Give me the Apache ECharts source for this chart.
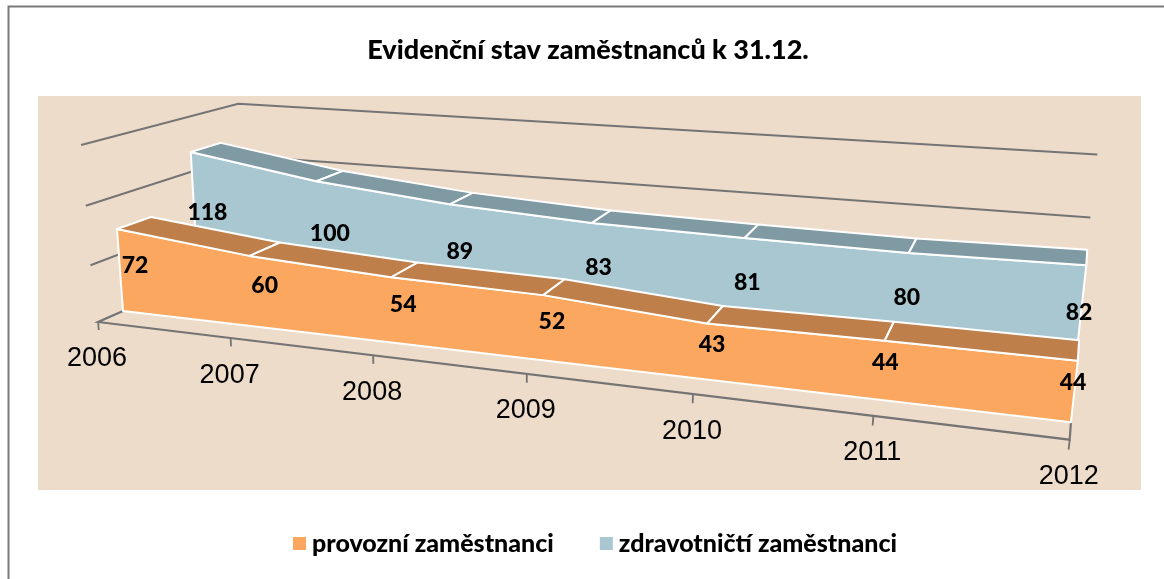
<!DOCTYPE html>
<html><head><meta charset="utf-8">
<style>html,body{margin:0;padding:0;background:#fff}#c{width:1164px;height:579px}</style>
<script src="https://cdn.jsdelivr.net/npm/echarts@6/dist/echarts.min.js"></script>
</head><body><div id="c"></div>
<script>
const years = ['2006','2007','2008','2009','2010','2011','2012'];
const provozni = [72,60,54,52,43,44,44];
const zdravotnicti = [118,100,89,83,81,80,82];
const valueTicks = [50,100,150];
const titleText = 'Evidenční stav zaměstnanců k 31.12.';
const nameA = 'provozní zaměstnanci', nameB = 'zdravotničtí zaměstnanci';

// perspective camera: origin + three vanishing points
const O=[123,311], VU=[-3550,-120], VV=[504,5524], VK=[1110,-125];
const A=-0.03419, B=-0.000215;
const K_AXIS=-0.0246, K_WALL=-0.0275, K_BACK=0.142;
const DEPTH_A=[0,0.0348], DEPTH_B=[0.0823,0.118];
const MAXU=years.length-1, MAXV=150;
function proj(api,i,v,k){
  const p=api.coord([i,v]), o=api.coord([0,0]), e=api.coord([MAXU,MAXV]);
  const a=A*(p[0]-o[0])/(e[0]-o[0])*MAXU, b=B*(p[1]-o[1])/(e[1]-o[1])*MAXV;
  const w=1+a+b+k;
  return [(O[0]+a*VU[0]+b*VV[0]+k*VK[0])/w,(O[1]+a*VU[1]+b*VV[1]+k*VK[1])/w];
}
const GRID='#747474';
const line=(pts,w)=>({type:'polyline',shape:{points:pts},style:{stroke:GRID,lineWidth:w||2,fill:null},silent:true});
const BOLD='Lato';
function renderGrid(params,api){
  const v=api.value(1);
  const a=proj(api,0,v,K_WALL),b=proj(api,0,v,K_BACK),c=proj(api,MAXU,v,K_BACK);
  return line([a,b,c]);
}
function renderAxis(params,api){
  const i=params.dataIndex, ch=[];
  const t=proj(api,i,0,K_AXIS), d=proj(api,i,-7,K_AXIS);
  ch.push(line([t,d],1.8));
  if(i===0){
    ch.push(line([proj(api,0,0,0),t,proj(api,MAXU,0,K_AXIS),proj(api,MAXU,0,0)],2.2));
  }
  ch.push({type:'text',style:{x:t[0]-1,y:t[1]+37,text:years[i],fontSize:27,fontFamily:'Liberation Sans',fill:'#000',textAlign:'center',textVerticalAlign:'middle'}});
  return {type:'group',children:ch};
}
function volume(vals,depth,topColor){
  return function(params,api){
    const i=params.dataIndex, col=api.visual('color'), ch=[];
    const edge={stroke:'#fff',lineWidth:2,lineJoin:'round'};
    if(i===0){
      const pts=[proj(api,0,0,depth[0])];
      vals.forEach((v,j)=>pts.push(proj(api,j,v,depth[0])));
      pts.push(proj(api,MAXU,0,depth[0]));
      ch.push({type:'polygon',shape:{points:pts},style:Object.assign({fill:col},edge)});
    }
    if(i<MAXU){
      ch.push({type:'polygon',shape:{points:[
        proj(api,i,vals[i],depth[0]),proj(api,i+1,vals[i+1],depth[0]),
        proj(api,i+1,vals[i+1],depth[1]),proj(api,i,vals[i],depth[1])]},
        style:Object.assign({fill:topColor},edge)});
    }
    return {type:'group',children:ch};
  };
}
function labels(depth,dy){
  return function(params,api){
    const i=params.dataIndex,v=api.value(1);
    const p=proj(api,i,v/2,(depth[0]+depth[1])/2);
    return {type:'text',style:{x:p[0]-2,y:p[1]+dy,text:String(v),fontSize:23,fontWeight:900,fontFamily:BOLD,fill:'#000',textAlign:'center',textVerticalAlign:'middle'}};
  };
}
const toPairs=a=>a.map((v,i)=>[i,v]);
const custom=(o)=>Object.assign({type:'custom',coordinateSystem:'cartesian2d',silent:true,animation:false},o);
const chart=echarts.init(document.getElementById('c'),null,{renderer:'canvas'});
chart.setOption({
  animation:false,
  backgroundColor:'#fff',
  title:{text:titleText,left:583,top:32,textAlign:'center',textStyle:{fontFamily:BOLD,fontWeight:900,fontSize:27,color:'#000'}},
  legend:{data:[nameA,nameB],left:288,top:526,icon:'rect',itemWidth:13,itemHeight:13,itemGap:46,selectedMode:false,
    textStyle:{fontFamily:BOLD,fontWeight:900,fontSize:25,color:'#000',padding:[0,0,0,1]}},
  grid:{left:38,top:96,width:1103,height:394,show:true,backgroundColor:'#eedccb',borderWidth:0},
  xAxis:{type:'category',data:years,boundaryGap:false,show:false},
  yAxis:{type:'value',min:0,max:MAXV,interval:50,show:false},
  graphic:[{type:'polyline',shape:{points:[[8.5,600],[8.5,6.5],[1170,6.5]]},style:{fill:null,stroke:'#7a7a7a',lineWidth:2},silent:true,z:100}],
  series:[
    custom({name:'mřížka',data:valueTicks.map(v=>[0,v]),renderItem:renderGrid,z:2}),
    custom({name:'osa',data:toPairs(years.map(()=>0)),renderItem:renderAxis,z:2}),
    custom({name:nameB,data:toPairs(zdravotnicti),itemStyle:{color:'#a9c7d1'},renderItem:volume(zdravotnicti,DEPTH_B,'#7f9aa3'),z:3}),
    custom({name:nameA,data:toPairs(provozni),itemStyle:{color:'#fca75f'},renderItem:volume(provozni,DEPTH_A,'#bf7f4a'),z:4}),
    custom({name:'popisky B',data:toPairs(zdravotnicti),renderItem:labels(DEPTH_B,3),z:5}),
    custom({name:'popisky A',data:toPairs(provozni),renderItem:labels(DEPTH_A,2),z:5})
  ]
});
</script></body></html>
